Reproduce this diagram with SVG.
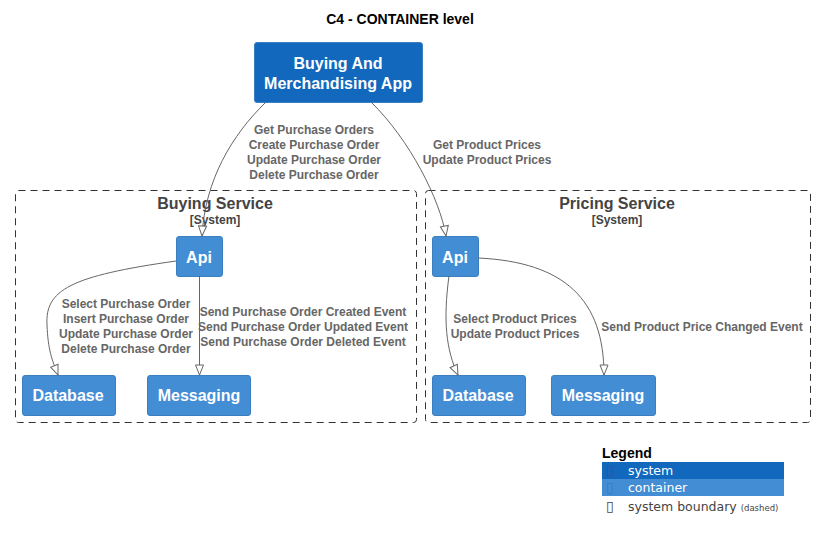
<svg xmlns="http://www.w3.org/2000/svg" width="815" height="540" viewBox="0 0 815 540">
<defs>
<style>
.sys{fill:#1168BD;stroke:#3C7FC0;stroke-width:1}
.cont{fill:#438DD5;stroke:#3C7FC0;stroke-width:1}
.nt{font-family:"Liberation Sans",Arial,sans-serif;font-weight:bold;font-size:16px;fill:#fff;text-anchor:middle}
.bnd{fill:none;stroke:#333;stroke-width:1;stroke-dasharray:7,5}
.bt{font-family:"Liberation Sans",Arial,sans-serif;font-weight:bold;font-size:16px;fill:#444;text-anchor:middle}
.bs{font-family:"Liberation Sans",Arial,sans-serif;font-weight:bold;font-size:12px;fill:#444;text-anchor:middle}
.edge{fill:none;stroke:#666;stroke-width:1;marker-end:url(#arr)}
.el{font-family:"Liberation Sans",Arial,sans-serif;font-weight:bold;font-size:12px;fill:#666;text-anchor:middle}
.lg{font-family:"DejaVu Sans",Verdana,sans-serif;font-size:12.5px}
.gl{font-family:"DejaVu Sans",sans-serif;font-size:14px}
</style>
<marker id="arr" viewBox="0 0 12 10" refX="11" refY="5" markerWidth="12" markerHeight="10" markerUnits="userSpaceOnUse" orient="auto">
<path d="M1,1 L11,5 L1,9 Z" fill="#fff" stroke="#666" stroke-width="1"/>
</marker>
</defs>
<rect width="815" height="540" fill="#fff"/>
<text x="400" y="24" font-family="Liberation Sans,Arial,sans-serif" font-weight="bold" font-size="14" text-anchor="middle" fill="#000">C4 - CONTAINER level</text>

<g id="boundary-buying">
<rect class="bnd" x="15.5" y="190.5" width="401" height="232" rx="3"/>
<text class="bt" x="215" y="209">Buying Service</text>
<text class="bs" x="215" y="224">[System]</text>
</g>
<g id="boundary-pricing">
<rect class="bnd" x="425.5" y="190.5" width="385" height="232" rx="3"/>
<text class="bt" x="617" y="209">Pricing Service</text>
<text class="bs" x="617" y="224">[System]</text>
</g>

<g id="app">
<rect class="sys" x="254.5" y="42.5" width="168" height="60" rx="2.5"/>
<text class="nt" x="338" y="69">Buying And</text>
<text class="nt" x="338" y="89">Merchandising App</text>
</g>
<g id="buying-api">
<rect class="cont" x="176.5" y="236.5" width="46" height="40" rx="2.5"/>
<text class="nt" x="199" y="263">Api</text>
</g>
<g id="buying-db">
<rect class="cont" x="22.5" y="375.5" width="93" height="40" rx="2.5"/>
<text class="nt" x="68" y="401">Database</text>
</g>
<g id="buying-msg">
<rect class="cont" x="147.5" y="375.5" width="103" height="40" rx="2.5"/>
<text class="nt" x="199" y="401">Messaging</text>
</g>
<g id="pricing-api">
<rect class="cont" x="432.5" y="236.5" width="46" height="40" rx="2.5"/>
<text class="nt" x="455" y="263">Api</text>
</g>
<g id="pricing-db">
<rect class="cont" x="432.5" y="375.5" width="93" height="40" rx="2.5"/>
<text class="nt" x="478" y="401">Database</text>
</g>
<g id="pricing-msg">
<rect class="cont" x="551.5" y="375.5" width="104" height="40" rx="2.5"/>
<text class="nt" x="603" y="401">Messaging</text>
</g>

<g id="connectors">
<path class="edge" d="M266,102 C232,135 205,180 202,236"/>
<text class="el" x="314" y="134">Get Purchase Orders</text>
<text class="el" x="314" y="149">Create Purchase Order</text>
<text class="el" x="314" y="164">Update Purchase Order</text>
<text class="el" x="314" y="179">Delete Purchase Order</text>

<path class="edge" d="M371,102 C410,140 440,200 446,236"/>
<text class="el" x="487" y="149">Get Product Prices</text>
<text class="el" x="487" y="164">Update Product Prices</text>

<path class="edge" d="M176,261 C70,276 45,290 47,325 C48,350 52,360 58,375"/>
<text class="el" x="126" y="308">Select Purchase Order</text>
<text class="el" x="126" y="323">Insert Purchase Order</text>
<text class="el" x="126" y="338">Update Purchase Order</text>
<text class="el" x="126" y="353">Delete Purchase Order</text>

<path class="edge" d="M199.5,276 L199.5,375"/>
<text class="el" x="303" y="316">Send Purchase Order Created Event</text>
<text class="el" x="303" y="331">Send Purchase Order Updated Event</text>
<text class="el" x="303" y="346">Send Purchase Order Deleted Event</text>

<path class="edge" d="M449,276 C443,320 446,350 458,375"/>
<text class="el" x="515" y="323">Select Product Prices</text>
<text class="el" x="515" y="338">Update Product Prices</text>

<path class="edge" d="M478,258 C565,262 604,300 604,375"/>
<text class="el" x="702" y="331">Send Product Price Changed Event</text>
</g>

<g id="legend">
<text x="602" y="458" font-family="Liberation Sans,Arial,sans-serif" font-weight="bold" font-size="14" fill="#000">Legend</text>
<rect x="602" y="462" width="182" height="17" fill="#1168BD"/>
<rect x="602" y="479" width="182" height="17" fill="#438DD5"/>
<text class="gl" x="606" y="475" fill="#2a5a96">▯</text>
<text class="lg" x="628" y="475" fill="#fff">system</text>
<text class="gl" x="606" y="492" fill="#3a7cc0">▯</text>
<text class="lg" x="628" y="492" fill="#fff">container</text>
<text class="gl" x="606" y="511" fill="#444">▯</text>
<text class="lg" x="628" y="511" fill="#444">system boundary <tspan font-size="8.5">(dashed)</tspan></text>
</g>
</svg>
